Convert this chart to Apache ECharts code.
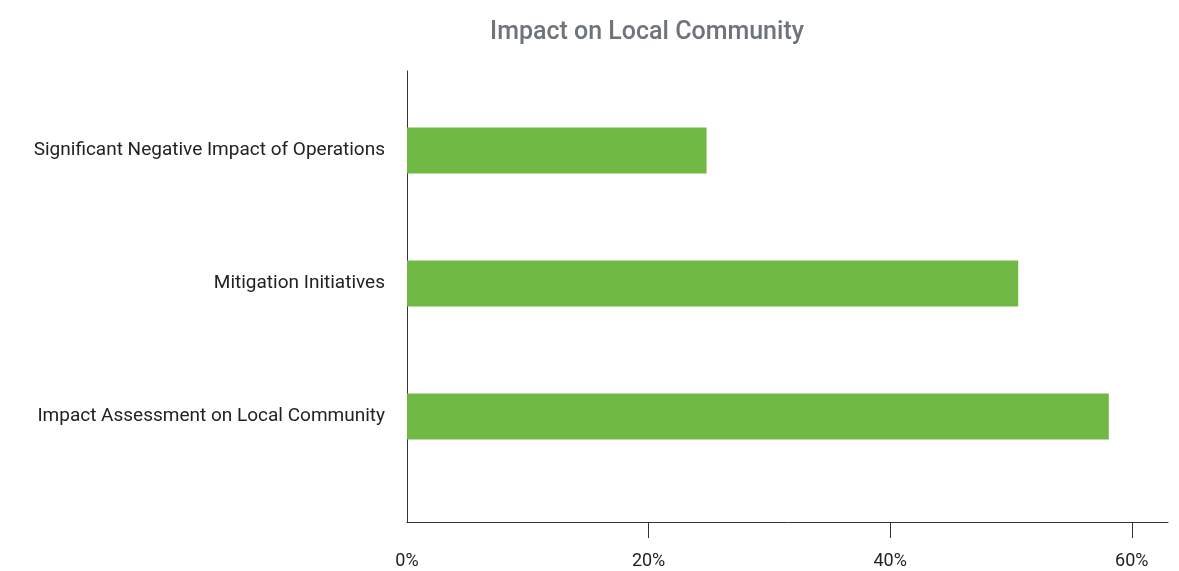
<!DOCTYPE html>
<html>
<head>
<meta charset="utf-8">
<title>Impact on Local Community</title>
<script src="https://cdn.jsdelivr.net/npm/echarts@6/dist/echarts.min.js"></script>
<style>
  html, body { margin: 0; padding: 0; background: #ffffff; }
  #chart { width: 1179px; height: 571px; }
</style>
</head>
<body>
<div id="chart"></div>
<script>
// Categories listed bottom to top (category y-axis starts at the bottom)
const categories = [
  'Impact Assessment on Local Community',
  'Mitigation Initiatives',
  'Significant Negative Impact of Operations'
];
// Share of respondents, in percent
const shareValues = [58.1, 50.6, 24.8];
// Tick positions on the percentage axis
const percentTicks = [0, 20, 40, 60];

const FONT = 'Roboto, "Noto Sans", sans-serif';
const AXIS_COLOR = '#333333';

const chart = echarts.init(document.getElementById('chart'));

chart.setOption({
  animation: false,
  backgroundColor: '#ffffff',
  title: {
    text: 'Impact on Local Community',
    left: 642,
    top: 15,
    textAlign: 'center',
    textStyle: {
      fontFamily: FONT,
      fontSize: 25,
      fontWeight: 500,
      color: '#6e7479'
    }
  },
  grid: [
    // frame grid: carries the full-length axis lines and the percent scale
    { left: 407, right: 11, top: 71, bottom: 49, containLabel: false },
    // bar grid: the category bands
    { left: 407, right: 11, top: 84, bottom: 88, containLabel: false }
  ],
  xAxis: [
    {
      type: 'value',
      gridIndex: 0,
      min: 0,
      max: 63,
      interval: 20,
      splitLine: { show: false },
      axisLine: { show: true, lineStyle: { color: AXIS_COLOR, width: 1 } },
      axisTick: {
        show: true,
        length: 16,
        customValues: percentTicks.filter(v => v > 0),
        lineStyle: { color: AXIS_COLOR, width: 1 }
      },
      axisLabel: {
        customValues: percentTicks,
        margin: 30,
        formatter: v => v + '%',
        fontFamily: FONT,
        fontSize: 18,
        color: '#222222'
      }
    },
    {
      type: 'value',
      gridIndex: 1,
      min: 0,
      max: 63,
      show: false
    }
  ],
  yAxis: [
    {
      type: 'value',
      gridIndex: 0,
      min: 0,
      max: 1,
      axisLine: { show: true, lineStyle: { color: AXIS_COLOR, width: 1 } },
      axisTick: { show: false },
      axisLabel: { show: false },
      splitLine: { show: false }
    },
    {
      type: 'category',
      gridIndex: 1,
      data: categories,
      axisLine: { show: false },
      axisTick: { show: false },
      splitLine: { show: false },
      axisLabel: {
        margin: 22,
        fontFamily: FONT,
        fontSize: 19,
        color: '#222222'
      }
    }
  ],
  series: [
    {
      type: 'bar',
      xAxisIndex: 1,
      yAxisIndex: 1,
      data: shareValues,
      barWidth: 46,
      itemStyle: { color: '#70b944' }
    }
  ]
});
</script>
</body>
</html>
